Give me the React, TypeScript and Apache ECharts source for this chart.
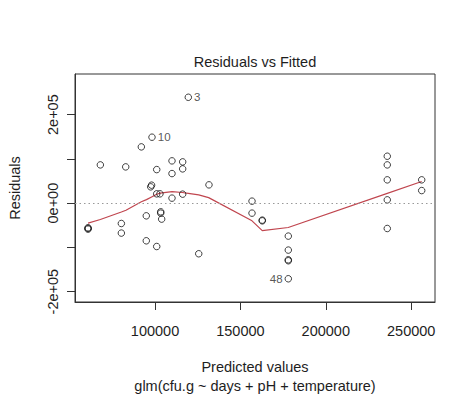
import React, { useEffect, useRef } from "react";
import * as echarts from "echarts";

// Fitted (predicted) values and residuals
const fittedValues = [
  60800, 60800, 60800, 68000, 80300, 80300, 82850, 92000, 94900, 94900,
  98240, 98000, 97500, 101000, 101000, 102900, 101000, 103340, 103340, 103900,
  109950, 109950, 109950, 116200, 116200, 116200, 119500, 125600, 131600, 156800,
  156800, 162800, 162800, 178050, 178050, 178050, 178050, 178050, 236000, 236000,
  236000, 236000, 236000, 256150, 256150,
];
const residuals = [
  -55700, -58700, -57200, 86400, -46000, -67700, 81900, 127100, -28700, -85100,
  149000, 40600, 36800, 75800, 21000, 21000, -98000, -19600, -22600, -36100,
  95500, 66800, 11300, 93200, 77400, 20300, 239200, -114400, 41300, 4500,
  -22600, -38400, -40000, -74500, -106100, -128000, -130200, -170900, 106000, 86400,
  52600, 7400, -57300, 52600, 28400,
];
// Identified observations (index into the arrays above -> label)
const idIndex = [26, 10, 37];
const idText = ["3", "10", "48"];
const idPos = ["right", "right", "left"];

// Lowess smooth
const smoothX = [
  60800, 68000, 80300, 83000, 92000, 95000, 98000, 101000, 103000, 110000,
  116000, 119500, 125600, 131400, 156800, 162800, 178000, 236000, 256150,
];
const smoothY = [
  -45000, -37000, -20000, -16000, 3000, 8000, 14000, 20000, 22500, 26000,
  24000, 22000, 18500, 12500, -40000, -62000, -55000, 22000, 49000,
];

const xTicks = [100000, 150000, 200000, 250000];
const yTicks = [-200000, -100000, 0, 100000, 200000];
const yLabelValues = [-200000, 0, 200000];
const yLabelTexts = ["-2e+05", "0e+00", "2e+05"];

const X_MIN = 53160;
const X_MAX = 263940;
const Y_MIN = -223400;
const Y_MAX = 291800;

const FONT = '"Liberation Sans", Arial, sans-serif';
const TXT = "#1e1e1e";

export default function App() {
  const ref = useRef<HTMLDivElement>(null);
  useEffect(() => {
    if (!ref.current) return;
    const chart = echarts.init(ref.current, undefined, { renderer: "svg" });
    const pts = fittedValues.map((x, i) => {
      const k = idIndex.indexOf(i);
      if (k >= 0) {
        return {
          value: [x, residuals[i]],
          label: {
            show: true,
            formatter: idText[k],
            position: idPos[k],
            distance: 2,
            fontSize: 11.5,
            color: "#2a2a2a",
            textBorderWidth: 0,
            fontFamily: FONT,
          },
        };
      }
      return { value: [x, residuals[i]] };
    });
    chart.setOption({
      animation: false,
      backgroundColor: "#ffffff",
      grid: {
        left: 75,
        top: 74,
        width: 360,
        height: 228,
        show: true,
        borderColor: "#333",
        borderWidth: 1,
        backgroundColor: "transparent",
      },
      xAxis: {
        type: "value",
        min: X_MIN,
        max: X_MAX,
        splitLine: { show: false },
        axisLine: { show: true, onZero: false, lineStyle: { color: "#333" } },
        axisTick: {
          show: true,
          length: 8,
          customValues: xTicks,
          lineStyle: { color: "#333" },
        },
        axisLabel: {
          customValues: xTicks,
          formatter: (v: number) => String(v),
          margin: 21,
          fontSize: 14.5,
          color: TXT,
          fontFamily: FONT,
        },
      },
      yAxis: {
        type: "value",
        min: Y_MIN,
        max: Y_MAX,
        splitLine: { show: false },
        axisLine: { show: true, onZero: false, lineStyle: { color: "#333" } },
        axisTick: {
          show: true,
          length: 8,
          customValues: yTicks,
          lineStyle: { color: "#333" },
        },
        axisLabel: {
          customValues: yLabelValues,
          formatter: (v: number) => {
            const k = yLabelValues.indexOf(v);
            return k >= 0 ? yLabelTexts[k] : "";
          },
          rotate: 90,
          margin: 15,
          fontSize: 14.5,
          color: TXT,
          fontFamily: FONT,
        },
      },
      graphic: [
        {
          type: "text",
          style: {
            text: "Residuals vs Fitted",
            x: 255,
            y: 62,
            textAlign: "center",
            textVerticalAlign: "middle",
            fontSize: 14.5,
            fill: TXT,
            fontFamily: FONT,
          },
        },
        {
          type: "text",
          style: {
            text: "Predicted values",
            x: 255,
            y: 366.5,
            textAlign: "center",
            textVerticalAlign: "middle",
            fontSize: 14.5,
            fill: TXT,
            fontFamily: FONT,
          },
        },
        {
          type: "text",
          style: {
            text: "glm(cfu.g ~ days + pH + temperature)",
            x: 255,
            y: 385.5,
            textAlign: "center",
            textVerticalAlign: "middle",
            fontSize: 14.5,
            fill: TXT,
            fontFamily: FONT,
          },
        },
        {
          type: "text",
          x: 15,
          y: 188,
          rotation: Math.PI / 2,
          style: {
            text: "Residuals",
            x: 0,
            y: 0,
            textAlign: "center",
            textVerticalAlign: "middle",
            fontSize: 14.5,
            fill: TXT,
            fontFamily: FONT,
          },
        },
      ],
      series: [
        {
          type: "line",
          data: smoothX.map((x, i) => [x, smoothY[i]]),
          showSymbol: false,
          symbol: "none",
          lineStyle: { color: "#c0464f", width: 1.2 },
          z: 2,
          markLine: {
            silent: true,
            symbol: "none",
            label: { show: false },
            lineStyle: { color: "#999", type: [1.5, 3], width: 1 },
            data: [{ yAxis: 0 }],
          },
        },
        {
          type: "scatter",
          data: pts,
          symbol: "circle",
          symbolSize: 6.5,
          itemStyle: { color: "transparent", borderColor: "#111", borderWidth: 1 },
          z: 3,
        },
      ],
    });
    return () => chart.dispose();
  }, []);
  return (
    <div
      ref={ref}
      style={{ position: "fixed", left: 0, top: 0, width: 474, height: 395 }}
    />
  );
}
